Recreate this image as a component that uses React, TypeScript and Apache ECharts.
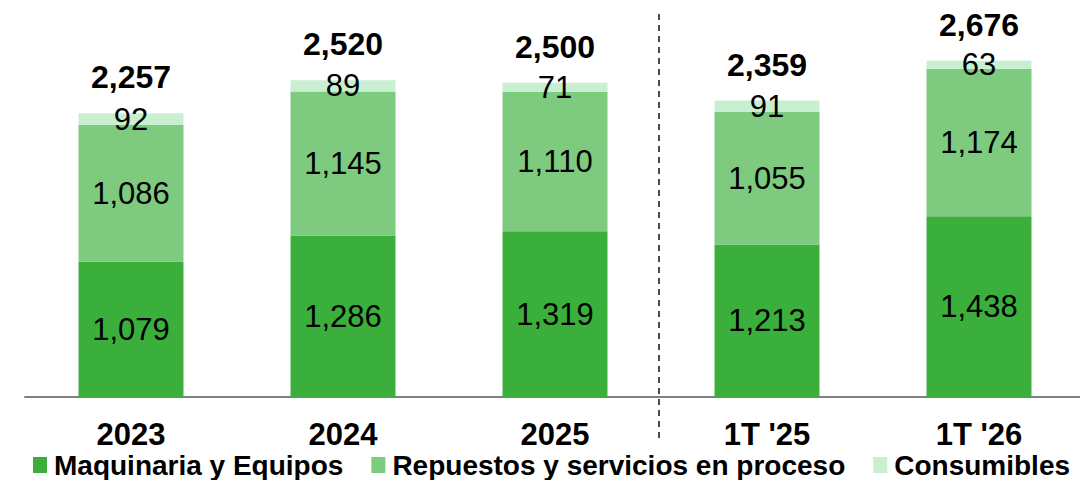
import React, { useEffect, useRef } from "react";
import * as echarts from "echarts";

const categories = ["2023", "2024", "2025", "1T '25", "1T '26"];
const maquinaria = [1079, 1286, 1319, 1213, 1438];
const repuestos = [1086, 1145, 1110, 1055, 1174];
const consumibles = [92, 89, 71, 91, 63];
const totals = [2257, 2520, 2500, 2359, 2676];
const seriesNames = ["Maquinaria y Equipos", "Repuestos y servicios en proceso", "Consumibles"];
const colors = ["#3BAF3B", "#7ECB80", "#C7EFD0"];

const fmt = (v: number) => v.toLocaleString("en-US");
const FONT = "'Liberation Sans', Arial, sans-serif";
const NARROW = "'Liberation Sans Narrow', 'Arial Narrow', 'Liberation Sans', sans-serif";

export default function App() {
  const ref = useRef<HTMLDivElement>(null);
  useEffect(() => {
    const chart = echarts.init(ref.current!, null, { renderer: "svg" });
    const seg = (name: string, data: number[], color: string) => ({
      name,
      type: "bar",
      stack: "a",
      data,
      barWidth: "49.5%",
      itemStyle: { color },
      label: {
        show: true,
        position: "inside",
        color: "#000",
        fontSize: 31,
        fontFamily: FONT,
        formatter: (p: any) => fmt(p.value),
      },
    });
    chart.setOption({
      animation: false,
      grid: { left: 25, right: 3, top: 20, bottom: 91 },
      legend: {
        bottom: 4,
        left: 28,
        itemWidth: 14,
        itemHeight: 16,
        itemGap: 28,
        icon: "rect",
        textStyle: { fontSize: 28, fontWeight: "bold", fontFamily: NARROW, color: "#000", padding: [0, 0, 0, 2] },
        data: seriesNames,
      },
      xAxis: {
        type: "category",
        data: categories,
        axisLine: { lineStyle: { color: "#808080", width: 2 } },
        axisTick: { show: false },
        axisLabel: { fontSize: 31, fontWeight: "bold", color: "#000", fontFamily: FONT, margin: 22 },
      },
      yAxis: { type: "value", min: 0, max: 3000, show: false, splitLine: { show: false } },
      series: [
        seg(seriesNames[0], maquinaria, colors[0]),
        seg(seriesNames[1], repuestos, colors[1]),
        seg(seriesNames[2], consumibles, colors[2]),
        {
          name: "Total",
          type: "bar",
          stack: "a",
          data: totals.map(() => 0),
          itemStyle: { color: "transparent" },
          label: {
            show: true,
            position: "top",
            distance: 20,
            color: "#000",
            fontSize: 32,
            fontWeight: "bold",
            fontFamily: FONT,
            formatter: (p: any) => fmt(totals[p.dataIndex]),
          },
        },
      ],
      graphic: [
        {
          type: "line",
          shape: { x1: 659, y1: 14, x2: 659, y2: 442 },
          style: { stroke: "#111", lineWidth: 1.5, lineDash: [6, 5] },
        },
      ],
    });
    return () => chart.dispose();
  }, []);
  return <div ref={ref} style={{ width: 1088, height: 488, margin: -8 }} />;
}
